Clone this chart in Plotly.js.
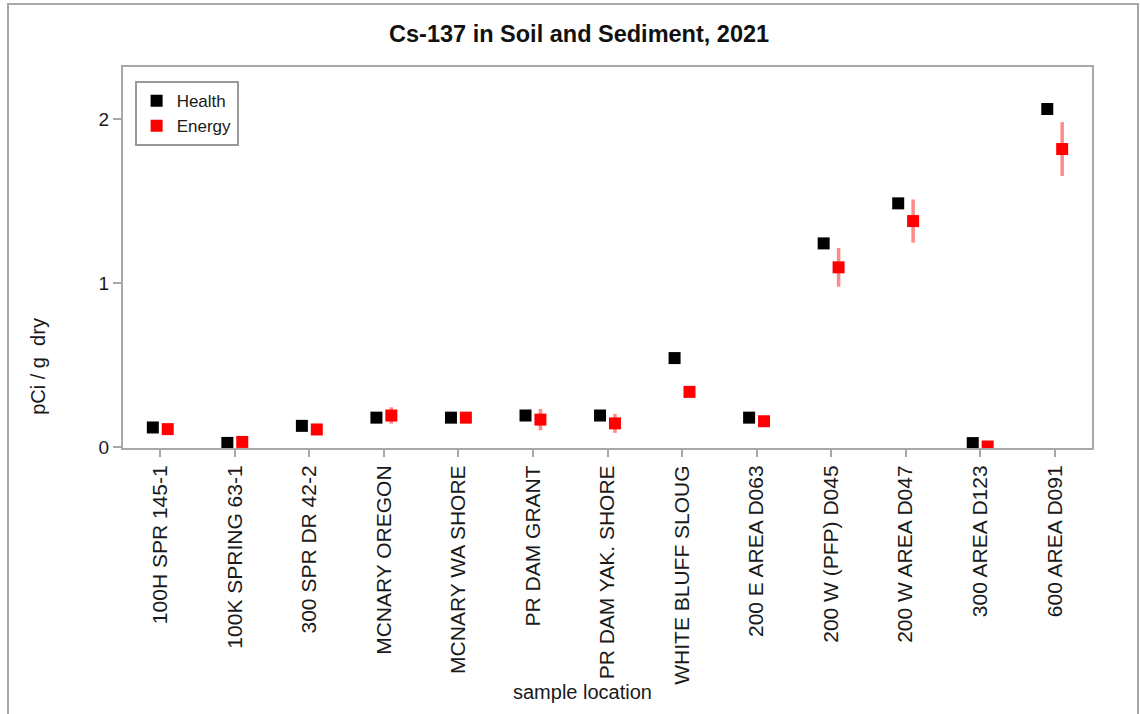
<!DOCTYPE html>
<html>
<head>
<meta charset="utf-8">
<script src="https://cdn.plot.ly/plotly-3.0.1.min.js"></script>
<style>
  html, body { margin:0; padding:0; background:#fff; }
  #chart { position:absolute; left:0; top:0; width:1140px; height:714px; }
  #frame { position:absolute; left:7px; top:3px; width:1128px; height:720px; border:2px solid #a8a8a8; pointer-events:none; }
</style>
</head>
<body>
<div id="chart"></div>
<div id="frame"></div>
<script>
const locations = ["100H SPR 145-1","100K SPRING 63-1","300 SPR DR 42-2","MCNARY OREGON","MCNARY WA SHORE","PR DAM GRANT","PR DAM YAK. SHORE","WHITE BLUFF SLOUG","200 E AREA D063","200 W (PFP) D045","200 W AREA D047","300 AREA D123","600 AREA D091"];
const healthValues = [0.12, 0.026, 0.13, 0.18, 0.18, 0.193, 0.193, 0.543, 0.18, 1.242, 1.486, 0.025, 2.061];
const healthErrors = [0.008, 0.008, 0.008, 0.008, 0.008, 0.008, 0.008, 0.012, 0.008, 0.012, 0.012, 0.008, 0.015];
const energyValues = [0.11, 0.032, 0.108, 0.193, 0.18, 0.168, 0.145, 0.337, 0.158, 1.096, 1.378, 0.004, 1.817];
const energyErrors = [0.025, 0.02, 0.025, 0.05, 0.03, 0.065, 0.058, 0.022, 0.022, 0.118, 0.132, 0.01, 0.164];

const FONT = "Liberation Sans, Arial, sans-serif";

const traces = [
  {
    type: "scatter", mode: "markers", name: "Health",
    x: locations, y: healthValues,
    marker: { symbol: "square", size: 12, color: "#000000" },
    error_y: { type: "data", array: healthErrors, visible: true, color: "#000000", thickness: 2, width: 0 }
  },
  {
    type: "scatter", mode: "markers", name: "Energy",
    x: locations, y: energyValues,
    marker: { symbol: "square", size: 12, color: "#ff0000" },
    error_y: { type: "data", array: energyErrors, visible: true, color: "rgba(255,60,60,0.6)", thickness: 3.5, width: 0 }
  }
];

const layout = {
  width: 1140, height: 714,
  paper_bgcolor: "#ffffff", plot_bgcolor: "#ffffff",
  margin: { l: 123, r: 48, t: 67, b: 266 },
  font: { family: FONT, size: 16, color: "#1a1a1a" },
  title: { text: "<b>Cs-137 in Soil and Sediment, 2021</b>", font: { family: FONT, size: 23.5, color: "#111" }, x: 0.508, xanchor: "center", y: 0.953, yanchor: "middle" },
  scattermode: "group",
  scattergap: 0.6,
  showlegend: true,
  legend: {
    x: 0.012, y: 0.963, xanchor: "left", yanchor: "top",
    bordercolor: "#999", borderwidth: 2, bgcolor: "#fff",
    font: { family: FONT, size: 17, color: "#1a1a1a" },
    itemsizing: "trace", tracegroupgap: 0
  },
  xaxis: {
    type: "category", range: [-0.5, 12.5],
    showline: true, mirror: true, linecolor: "#a8a8a8", linewidth: 2,
    ticks: "outside", ticklen: 7, tickcolor: "#a8a8a8", tickwidth: 2,
    tickangle: -90, tickfont: { family: FONT, size: 21, color: "#1a1a1a" },
    showgrid: false, zeroline: false, automargin: false
  },
  yaxis: {
    range: [-0.005, 2.317],
    tickvals: [0, 1, 2], ticktext: ["0", "1", "2"],
    showline: true, mirror: true, linecolor: "#a8a8a8", linewidth: 2,
    ticks: "outside", ticklen: 8, tickcolor: "#a8a8a8", tickwidth: 2,
    tickfont: { family: FONT, size: 19, color: "#1a1a1a" },
    showgrid: false, zeroline: false, automargin: false
  },
  annotations: [
    { text: "sample location", xref: "paper", yref: "paper", x: 0.474, y: -0.64, xanchor: "center", yanchor: "middle", showarrow: false, font: { family: FONT, size: 20, color: "#1a1a1a" } },
    { text: "pCi / g  dry", xref: "paper", yref: "paper", x: -0.088, y: 0.215, xanchor: "center", yanchor: "middle", textangle: -90, showarrow: false, font: { family: FONT, size: 20, color: "#1a1a1a" } }
  ]
};

Plotly.newPlot("chart", traces, layout, { displayModeBar: false, staticPlot: true });
</script>
</body>
</html>
